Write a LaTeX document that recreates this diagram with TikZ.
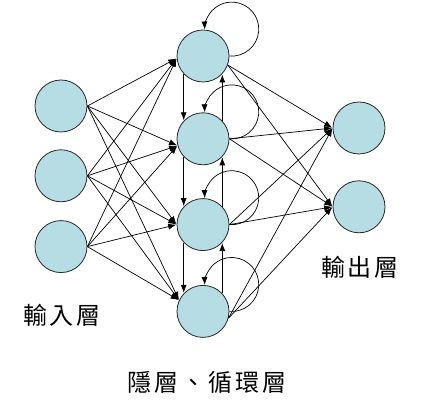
\documentclass[tikz,border=0pt]{standalone}
\usepackage{fontspec}
\newfontfamily\cjk{Noto Sans CJK TC}
\usetikzlibrary{positioning,arrows.meta}
\definecolor{cellblue}{RGB}{183,221,228}

\begin{document}
\begin{tikzpicture}[
        x=1pt, y=1pt,
        neuron/.style={
                circle,
                draw=black!85,
                fill=cellblue,
                line width=0.8pt,
                minimum size=52pt,
                inner sep=0pt
            },
        layername/.style = {font=\cjk\fontsize{24}{28}\selectfont\addfontfeatures{LetterSpace=12}},
        link/.style = {->, line width=0.7pt},
        >={Latex[length=8pt,width=6pt]},
        shorten >=0.5pt
    ]
    \useasboundingbox (0,0) rectangle (425,411);

    \node[neuron] (in1) at (61,305) {};
    \node[neuron] (in2) [below=17pt of in1] {};
    \node[neuron] (in3) [below=18pt of in2] {};

    \node[neuron] (hid1) at (203,355) {};
    \node[neuron] (hid2) [below=30pt of hid1] {};
    \node[neuron] (hid3) [below=33pt of hid2] {};
    \node[neuron] (hid4) [below=34pt of hid3] {};

    \node[neuron] (out1) at (359,283) {};
    \node[neuron] (out2) [below=26pt of out1] {};

    \node[layername] (inname) at (62,96) {輸入層};
    \node[layername] (outname) at (360,144) {輸出層};
    \node[layername] (hidname) at (207,29) {隱層、循環層};

    % input -> hidden
    \foreach \i in {1,2,3}
        \foreach \j/\a in {1/185,2/195,3/180,4/155}
            \draw[link] (in\i.east) -- (hid\j.\a);

    % hidden -> output
    \foreach \j/\a in {1/-20,2/0,3/0,4/-15}
        \foreach \k in {1,2}
            \draw[link] (hid\j.\a) -- (out\k.west);

    % recurrent links
    \foreach \j/\n in {1/2,2/3,3/4} {
        \draw[link] (hid\j.223) -- (hid\n.137);
        \draw[link] (hid\n.43) -- (hid\j.-43);
    }
    \foreach \j in {1,...,4}
        \draw[link] (hid\j.east) arc[start angle=-95, end angle=182, radius=27pt];
\end{tikzpicture}
\end{document}
